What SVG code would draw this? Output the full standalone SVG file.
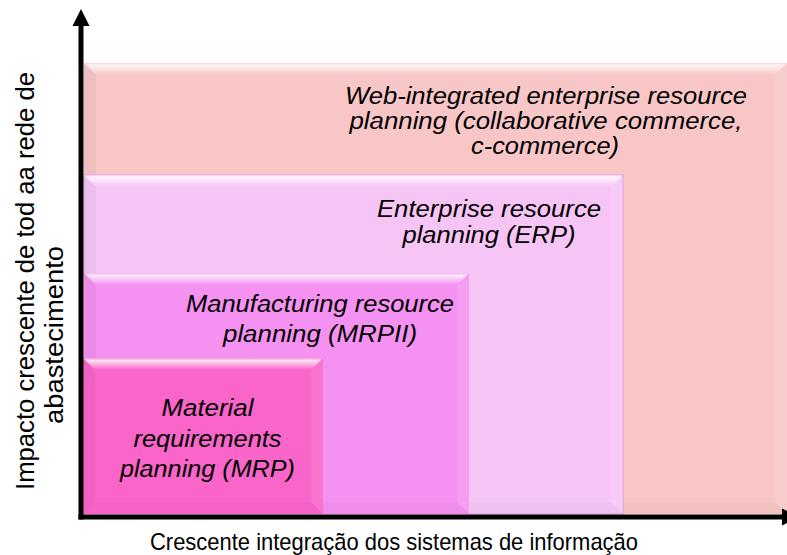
<svg xmlns="http://www.w3.org/2000/svg" width="787" height="555" viewBox="0 0 787 555">
<style>
  .lbl { font-family: "Liberation Sans", Arial, sans-serif; font-style: italic; font-size: 24.5px; fill: #000; text-anchor: middle; }
  .axl { font-family: "Liberation Sans", Arial, sans-serif; font-size: 26.5px; fill: #000; text-anchor: middle; }
  .bt { fill: url(#topHi); }
  .bl { fill: #000; fill-opacity: 0.035; }
  .br { fill: #fff; fill-opacity: 0.1; }
  .bb { fill: #000; fill-opacity: 0.025; }
  .axis { stroke: #000; stroke-width: 5; fill: none; }
</style>
<defs>
  <linearGradient id="topHi" x1="0" y1="0" x2="0" y2="1">
    <stop offset="0" stop-color="#fff" stop-opacity="0.3"/>
    <stop offset="0.2" stop-color="#fff" stop-opacity="0.8"/>
    <stop offset="1" stop-color="#fff" stop-opacity="0"/>
  </linearGradient>
</defs>
<rect width="787" height="555" fill="#fff"/>

<g id="web">
  <rect x="84" y="63" width="703" height="451" fill="#F8C6C7"/>
  <polygon class="bt" points="84,63 787,63 775,75 96,75"/>
  <polygon class="bl" points="84,63 96,75 96,502 84,514"/>
  <polygon class="br" points="787,63 775,75 775,502 787,514"/>
  <polygon class="bb" points="84,514 96,502 775,502 787,514"/>
  <text class="lbl" x="546" y="104" textLength="402" lengthAdjust="spacingAndGlyphs">Web-integrated enterprise resource</text>
  <text class="lbl" x="546" y="129" textLength="393" lengthAdjust="spacingAndGlyphs">planning (collaborative commerce,</text>
  <text class="lbl" x="545" y="154" textLength="148" lengthAdjust="spacingAndGlyphs">c-commerce)</text>
</g>

<g id="erp">
  <rect x="84" y="175" width="539" height="339" fill="#F6C5F6" stroke="#D9A2DC" stroke-width="1"/>
  <polygon class="bt" points="84,175 623,175 611,187 96,187"/>
  <polygon class="bl" points="84,175 96,187 96,502 84,514"/>
  <polygon class="br" points="623,175 611,187 611,502 623,514"/>
  <polygon class="bb" points="84,514 96,502 611,502 623,514"/>
  <text class="lbl" x="489" y="217" textLength="224" lengthAdjust="spacingAndGlyphs">Enterprise resource</text>
  <text class="lbl" x="489" y="243" textLength="173" lengthAdjust="spacingAndGlyphs">planning (ERP)</text>
</g>

<g id="mrpii">
  <rect x="84" y="273" width="385" height="241" fill="#F591F0"/>
  <polygon class="bt" points="84,273 469,273 457,285 96,285"/>
  <polygon class="bl" points="84,273 96,285 96,502 84,514"/>
  <polygon class="br" points="469,273 457,285 457,502 469,514"/>
  <polygon class="bb" points="84,514 96,502 457,502 469,514"/>
  <text class="lbl" x="320" y="312" textLength="268" lengthAdjust="spacingAndGlyphs">Manufacturing resource</text>
  <text class="lbl" x="320" y="342" textLength="194" lengthAdjust="spacingAndGlyphs">planning (MRPII)</text>
</g>

<g id="mrp">
  <rect x="83" y="358" width="240" height="156" fill="#F965C9"/>
  <polygon class="bt" points="83,358 323,358 311,370 95,370"/>
  <polygon class="bl" points="83,358 95,370 95,502 83,514"/>
  <polygon class="br" points="323,358 311,370 311,502 323,514"/>
  <polygon class="bb" points="83,514 95,502 311,502 323,514"/>
  <text class="lbl" x="207.5" y="416" textLength="92" lengthAdjust="spacingAndGlyphs">Material</text>
  <text class="lbl" x="207.5" y="447" textLength="148" lengthAdjust="spacingAndGlyphs">requirements</text>
  <text class="lbl" x="207.5" y="477" textLength="175" lengthAdjust="spacingAndGlyphs">planning (MRP)</text>
</g>

<g id="connectors">
  <line class="axis" x1="81" y1="519.5" x2="81" y2="24"/>
  <polygon points="81,9 72.5,26 89.5,26" fill="#000"/>
  <line class="axis" x1="78.5" y1="517" x2="783" y2="517"/>
  <polygon points="799,517 782,508.5 782,525.5" fill="#000"/>
</g>

<g id="axis-labels">
  <text class="axl" transform="translate(34,281) rotate(-90)" textLength="418" lengthAdjust="spacingAndGlyphs">Impacto crescente de tod aa rede de</text>
  <text class="axl" transform="translate(63,335) rotate(-90)" textLength="178" lengthAdjust="spacingAndGlyphs">abastecimento</text>
  <text class="axl" x="394" y="550" style="font-size:24px" textLength="488" lengthAdjust="spacingAndGlyphs">Crescente integração dos sistemas de informação</text>
</g>
</svg>
